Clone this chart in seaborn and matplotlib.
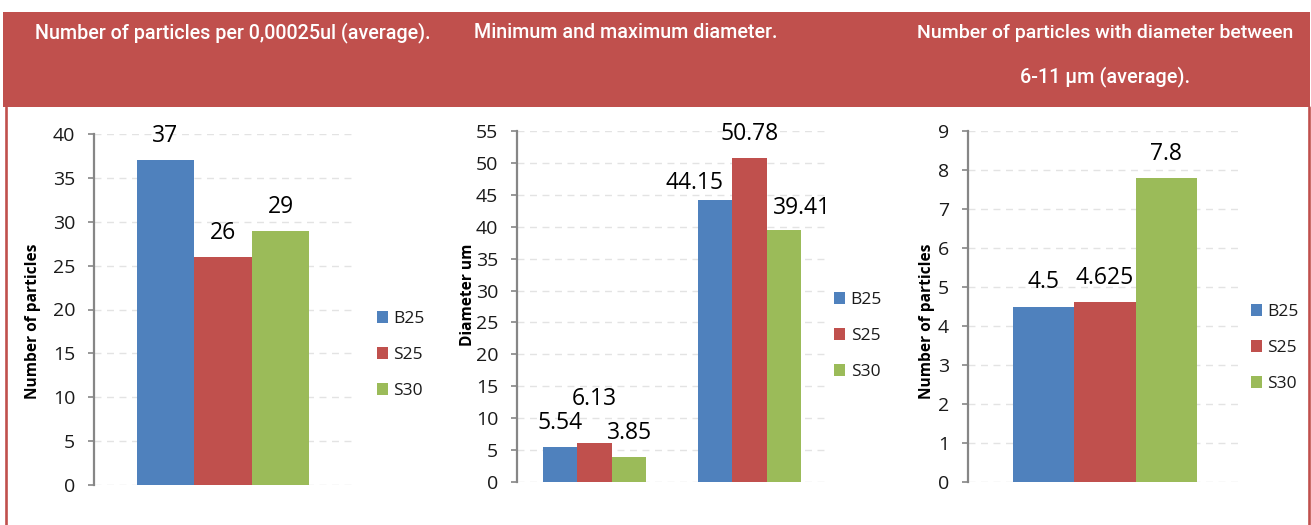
import matplotlib
matplotlib.use("Agg")
import matplotlib.pyplot as plt
import seaborn as sns
import pandas as pd
from matplotlib.patches import Rectangle
from matplotlib.lines import Line2D

# ---- data ----
series = ["B25", "S25", "S30"]
series_colors = ["#4F81BD", "#C0504D", "#9BBB59"]

count_group = ["Average"]
count_values = [37, 26, 29]

diam_groups = ["Minimum", "Maximum"]
diam_min = [5.54, 6.13, 3.85]
diam_max = [44.15, 50.78, 39.41]

mid_group = ["6-11 um"]
mid_values = [4.5, 4.625, 7.8]

panel_titles = [
    "Number of particles per 0,00025ul (average).",
    "Minimum and maximum diameter.",
    "Number of particles with diameter between",
    "6-11 \u00b5m (average).",
]
y_labels = ["Number of particles", "Diameter um", "Number of particles"]

df_count = pd.DataFrame({"group": count_group * 3, "series": series, "value": count_values})
df_diam = pd.DataFrame({
    "group": [diam_groups[0]] * 3 + [diam_groups[1]] * 3,
    "series": series * 2,
    "value": diam_min + diam_max,
})
df_mid = pd.DataFrame({"group": mid_group * 3, "series": series, "value": mid_values})

# ---- style ----
sns.set_theme(style="white")
BODY = ["Open Sans", "DejaVu Sans"]
HEAD = ["Roboto", "DejaVu Sans"]
plt.rcParams["font.family"] = BODY

BANNER = "#C0504D"
W, H = 1311, 525
fig = plt.figure(figsize=(W / 100, H / 100), dpi=100)
fig.patch.set_facecolor("white")

def fx(px):
    return px / W

def fy(py):
    return 1 - py / H

# banner and side borders
fig.patches.append(Rectangle((fx(3), fy(107)), fx(1310) - fx(3), fy(12) - fy(107),
                             transform=fig.transFigure, facecolor=BANNER,
                             edgecolor="none", zorder=0))
for xb in (5.5, 1309):
    fig.lines.append(Line2D([fx(xb), fx(xb)], [0, fy(107)], transform=fig.transFigure,
                            color=BANNER, lw=1.9, zorder=0))

# panel headings: (left px, right px, centre y px)
title_spans = [(35, 431, 33), (474, 778, 33), (917, 1293, 33), (1020, 1189, 77)]
title_texts = []
for txt, (x0, x1, yc) in zip(panel_titles, title_spans):
    t = fig.text(fx(x0), fy(yc), txt, color="white", fontsize=13, family=HEAD,
                 fontweight="medium", va="center", ha="left")
    title_texts.append((t, x1 - x0))

# axes boxes in pixels: left, right, top, bottom
boxes = [(94, 352, 134, 485), (517, 827, 131, 482), (968, 1242, 131, 482)]
frames = [df_count, df_diam, df_mid]
ylims = [(0, 40, 5), (0, 55, 5), (0, 9, 1)]
legend_pos = [(1.097, 0.37), (1.023, 0.416), (1.033, 0.382)]
ylabel_pos = [(-0.205, 0.467), (-0.132, 0.533), (-0.122, 0.459)]
# per-label nudges in pixels (dx, dy) keyed by (panel, series index, group index)
label_nudge = {(1, 1, 0): (0, 20), (1, 0, 1): (-20, -7), (1, 2, 1): (18, -2)}

for p, (box, df) in enumerate(zip(boxes, frames)):
    l, r, t, b = box
    ax = fig.add_axes([fx(l), fy(b), fx(r) - fx(l), fy(t) - fy(b)])
    sns.barplot(data=df, x="group", y="value", hue="series", hue_order=series,
                palette=series_colors, saturation=1, width=0.67, errorbar=None,
                linewidth=0, ax=ax)
    lo, hi, step = ylims[p]
    ax.set_ylim(lo, hi)
    ax.set_yticks(range(lo, hi + 1, step))
    ax.set_xticks([])
    ax.set_xlabel("")
    ax.set_ylabel(y_labels[p], fontsize=11.2, fontweight="bold", color="#000000")
    ax.yaxis.set_label_coords(*ylabel_pos[p])
    ax.tick_params(axis="y", left=True, length=4.5, width=1.2, color="#868686",
                   labelsize=14, labelcolor="#1a1a1a", pad=9)
    for side in ("top", "right", "bottom"):
        ax.spines[side].set_visible(False)
    ax.spines["left"].set_color("#868686")
    ax.spines["left"].set_linewidth(1.6)
    ax.yaxis.grid(True, color="#E3E3E3", linestyle=(0, (5, 4)), linewidth=1.0)
    ax.set_axisbelow(True)

    for si, cont in enumerate(ax.containers):
        for gi, bar in enumerate(cont):
            v = bar.get_height()
            dx, dy = label_nudge.get((p, si, gi), (0, 0))
            ax.annotate(f"{v:g}", xy=(bar.get_x() + bar.get_width() / 2, v),
                        xytext=(dx * 0.72, (24 + dy) * 0.72), textcoords="offset points",
                        ha="center", va="center", fontsize=16.5, color="#000000")

    sns.move_legend(ax, "center left", bbox_to_anchor=legend_pos[p], frameon=False,
                    title=None, fontsize=12.5, handlelength=0.65, handleheight=0.65,
                    handletextpad=0.3, labelspacing=1.15, borderpad=0, borderaxespad=0)
    for txt in ax.get_legend().get_texts():
        txt.set_color("#1a1a1a")

# fit each heading to its measured width
fig.canvas.draw()
renderer = fig.canvas.get_renderer()
for t, target in title_texts:
    w = t.get_window_extent(renderer).width
    t.set_fontsize(t.get_fontsize() * target / w)

fig.savefig("out.png", dpi=100)
